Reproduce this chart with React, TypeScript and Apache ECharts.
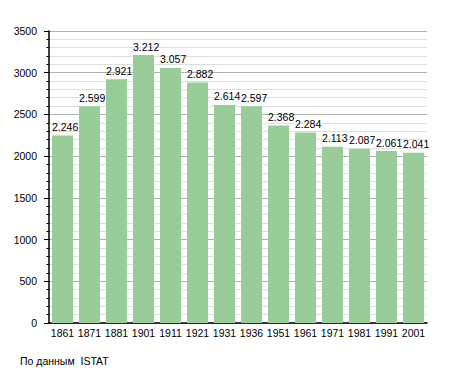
import React, { useEffect, useRef } from "react";
import * as echarts from "echarts";

const years = ["1861", "1871", "1881", "1901", "1911", "1921", "1931", "1936", "1951", "1961", "1971", "1981", "1991", "2001"];
const population = [2246, 2599, 2921, 3212, 3057, 2882, 2614, 2597, 2368, 2284, 2113, 2087, 2061, 2041];
const yTicks = { min: 0, max: 3500, interval: 500 };
const sourceText = "По данным  ISTAT";

const FONT = "'Liberation Sans', Arial, sans-serif";

function fmt(v: number): string {
  const s = String(Math.round(v));
  return s.replace(/\B(?=(\d{3})+(?!\d))/g, ".");
}

export default function App() {
  const ref = useRef<HTMLDivElement>(null);
  useEffect(() => {
    if (!ref.current) return;
    const chart = echarts.init(ref.current, undefined, { renderer: "svg" });
    chart.setOption({
      animation: false,
      backgroundColor: "#ffffff",
      textStyle: { fontFamily: FONT },
      grid: { left: 49, right: 28, top: 31, bottom: 50, containLabel: false },
      xAxis: {
        type: "category",
        data: years,
        axisLine: { show: true, lineStyle: { color: "#000", width: 1.5 } },
        axisTick: { show: false },
        axisLabel: { color: "#000", fontSize: 10.5, fontFamily: FONT, margin: 4, interval: 0 },
        splitLine: { show: false },
      },
      yAxis: {
        type: "value",
        min: yTicks.min,
        max: yTicks.max,
        interval: yTicks.interval,
        axisLine: { show: true, lineStyle: { color: "#000", width: 1.5 } },
        axisTick: { show: true, inside: false, length: 5, lineStyle: { color: "#000" } },
        minorTick: { show: true, splitNumber: 5, length: 2.5, lineStyle: { color: "#000" } },
        axisLabel: {
          color: "#000",
          fontSize: 10.5,
          fontFamily: FONT,
          margin: 12,
          formatter: (v: number) => String(v),
        },
        splitLine: { show: true, lineStyle: { color: "#b0b0b0", width: 1 } },
        minorSplitLine: { show: true, lineStyle: { color: "#dedede", width: 1 } },
      },
      series: [
        {
          type: "bar",
          data: population,
          barWidth: 21,
          itemStyle: { color: "#99cc99" },
          label: {
            show: true,
            position: [0, -3],
            align: "left",
            verticalAlign: "bottom",
            color: "#000",
            fontSize: 10.5,
            fontFamily: FONT,
            formatter: (p: any) => fmt(p.value),
          },
        },
      ],
      graphic: [
        {
          type: "text",
          left: 20,
          top: 355,
          style: { text: sourceText, fill: "#000", font: `10.5px ${FONT}` },
        },
      ],
    });
    return () => chart.dispose();
  }, []);
  return (
    <div
      ref={ref}
      style={{ position: "fixed", left: 0, top: 0, width: 455, height: 373, background: "#fff" }}
    />
  );
}
